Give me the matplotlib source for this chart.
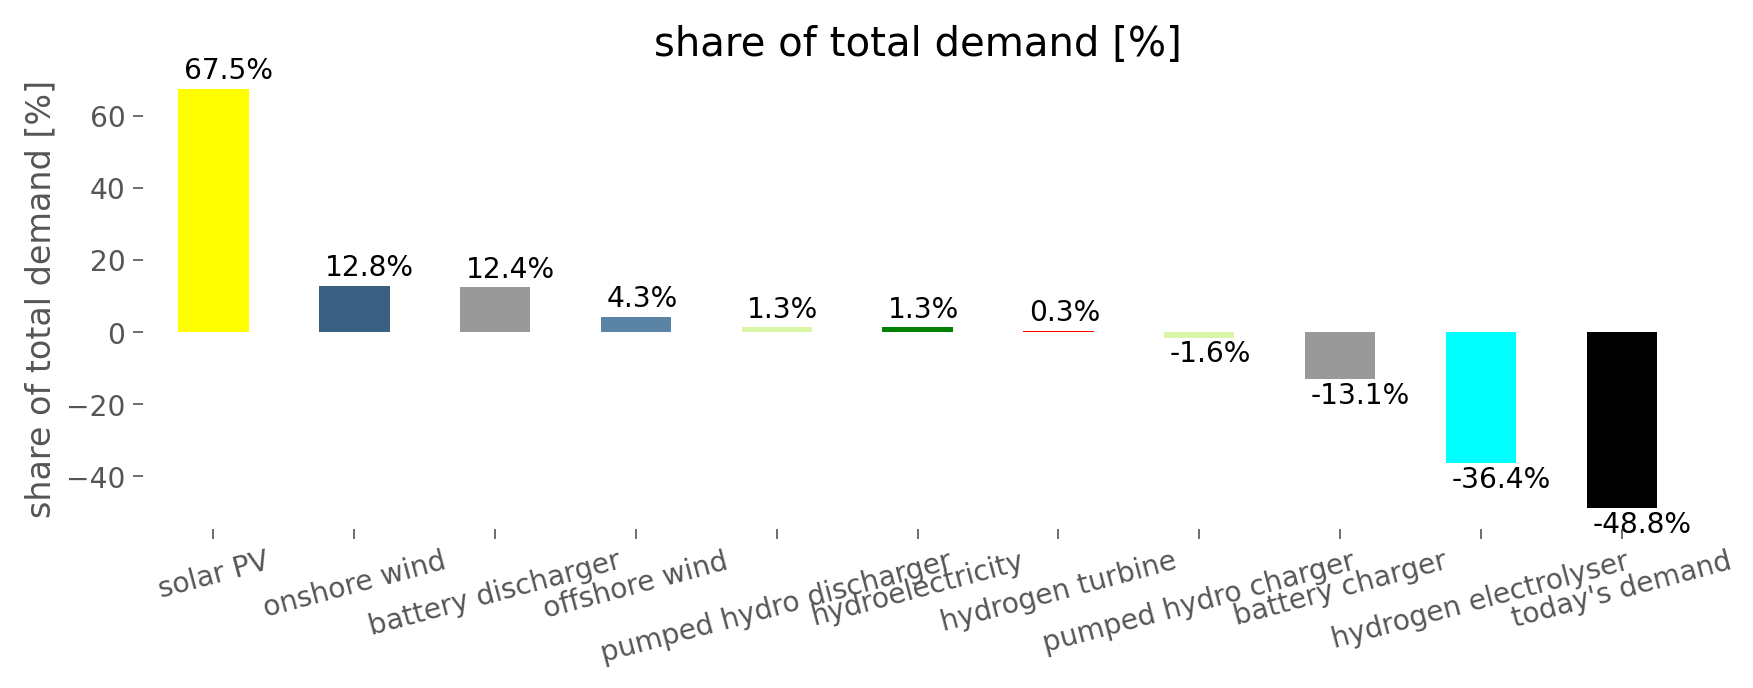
import matplotlib

matplotlib.use("Agg")
import matplotlib.pyplot as plt

categories = [
    "solar PV",
    "onshore wind",
    "battery discharger",
    "offshore wind",
    "pumped hydro discharger",
    "hydroelectricity",
    "hydrogen turbine",
    "pumped hydro charger",
    "battery charger",
    "hydrogen electrolyser",
    "today's demand",
]
shares = [67.5, 12.8, 12.4, 4.3, 1.3, 1.3, 0.3, -1.6, -13.1, -36.4, -48.8]
colors = [
    "#ffff00",
    "#3a6182",
    "#999999",
    "#5b83a6",
    "#d9f5a6",
    "#008000",
    "#ff0000",
    "#d9f5a6",
    "#999999",
    "#00ffff",
    "#000000",
]

GREY = "#555555"

fig, ax = plt.subplots(figsize=(11.69, 4.59), dpi=150)
x = list(range(len(categories)))
bars = ax.bar(x, shares, width=0.5, color=colors)
ax.set_xlim(-0.5, len(categories) - 0.5)

for b, v in zip(bars, shares):
    if v >= 0:
        ax.annotate(f"{v:.1f}%", (b.get_x() + 0.04, v), xytext=(0, 2),
                    textcoords="offset points", ha="left", va="bottom", fontsize=13.5)
    else:
        ax.annotate(f"{v:.1f}%", (b.get_x() + 0.04, v), xytext=(0, -1),
                    textcoords="offset points", ha="left", va="top", fontsize=13.5)

ax.set_xticks(x)
ax.set_xticklabels(categories, rotation=15)
ax.tick_params(colors=GREY, labelcolor=GREY, labelsize=13.5, length=5)
for s in ax.spines.values():
    s.set_visible(False)
ax.set_ylabel("share of total demand [%]", fontsize=16, color=GREY)
ax.set_title("share of total demand [%]", fontsize=19.3)

fig.subplots_adjust(left=0.0816, right=0.965, top=0.901, bottom=0.231)
fig.savefig("out.png", dpi=150, facecolor="white")
